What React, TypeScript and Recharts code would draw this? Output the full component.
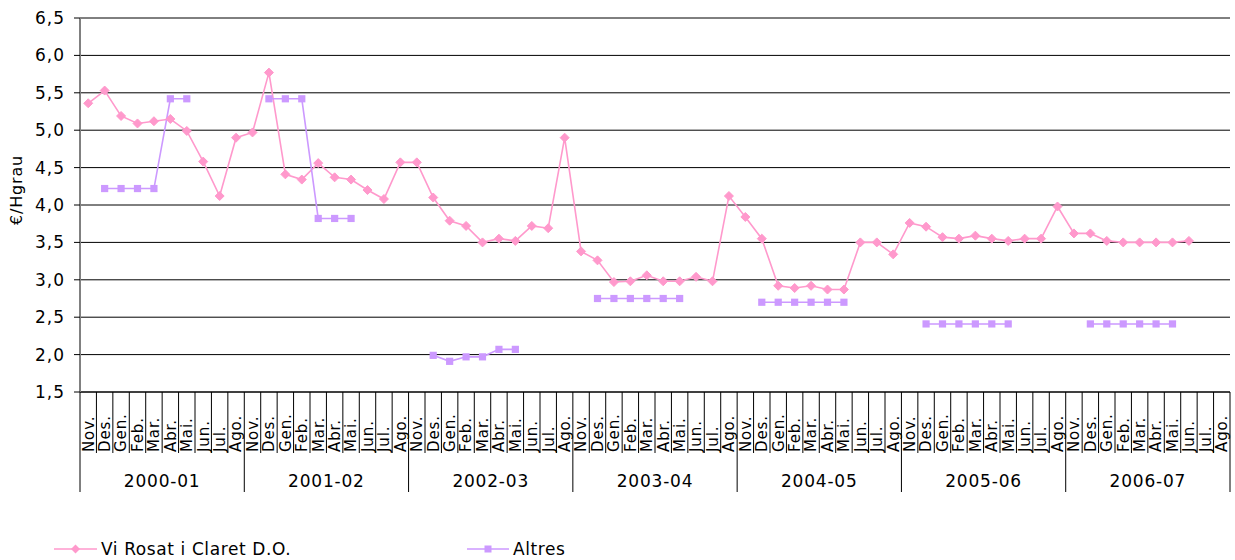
import React from "react";
import {
  LineChart,
  Line,
  XAxis,
  YAxis,
  CartesianGrid,
  Legend,
} from "recharts";

const months = ["Nov.", "Des.", "Gen.", "Feb.", "Mar.", "Abr.", "Mai.", "Jun.", "Jul.", "Ago."];
const seasons = ["2000-01", "2001-02", "2002-03", "2003-04", "2004-05", "2005-06", "2006-07"];

// €/hectolitre-degree, one value per month, Nov..Ago of each season
const rosatValues: (number | null)[] = [
  5.36, 5.53, 5.19, 5.09, 5.12, 5.15, 4.99, 4.58, 4.12, 4.9,
  4.97, 5.77, 4.41, 4.34, 4.56, 4.37, 4.34, 4.2, 4.08, 4.57,
  4.57, 4.1, 3.79, 3.72, 3.5, 3.55, 3.52, 3.72, 3.69, 4.9,
  3.38, 3.26, 2.97, 2.98, 3.06, 2.98, 2.98, 3.04, 2.98, 4.12,
  3.84, 3.55, 2.92, 2.89, 2.92, 2.87, 2.87, 3.5, 3.5, 3.34,
  3.76, 3.71, 3.57, 3.55, 3.59, 3.55, 3.52, 3.55, 3.55, 3.98,
  3.62, 3.62, 3.52, 3.5, 3.5, 3.5, 3.5, 3.52, null, null,
];

const altresValues: (number | null)[] = [
  null, 4.22, 4.22, 4.22, 4.22, 5.42, 5.42, null, null, null,
  null, 5.42, 5.42, 5.42, 3.82, 3.82, 3.82, null, null, null,
  null, 1.99, 1.91, 1.97, 1.97, 2.07, 2.07, null, null, null,
  null, 2.75, 2.75, 2.75, 2.75, 2.75, 2.75, null, null, null,
  null, 2.7, 2.7, 2.7, 2.7, 2.7, 2.7, null, null, null,
  null, 2.41, 2.41, 2.41, 2.41, 2.41, 2.41, null, null, null,
  null, 2.41, 2.41, 2.41, 2.41, 2.41, 2.41, null, null, null,
];

const yTicks = [1.5, 2, 2.5, 3, 3.5, 4, 4.5, 5, 5.5, 6, 6.5];

const PINK = "#ff99cc";
const PURPLE = "#cc99ff";
const FONT = "'DejaVu Sans', sans-serif";

const WIDTH = 1235;
const HEIGHT = 560;
const PLOT_LEFT = 80;
const PLOT_RIGHT = 1230;
const MARGIN = { top: 18, right: WIDTH - PLOT_RIGHT, left: 0, bottom: 58 };
const Y_AXIS_W = PLOT_LEFT - MARGIN.left;
const N = rosatValues.length;
const BAND = (PLOT_RIGHT - PLOT_LEFT) / N;

const data = rosatValues.map((v, i) => ({
  idx: i,
  rosat: v,
  altres: altresValues[i],
}));

const fmt = (v: number) => v.toFixed(1).replace(".", ",");

function MonthTick(props: any) {
  const { x, y, payload } = props;
  const idx = Number(payload.value);
  const left = x - BAND / 2;
  const seasonStart = idx % 10 === 0;
  const ly = y + 60;
  return (
    <g>
      <line x1={left} y1={y} x2={left} y2={y + (seasonStart ? 100 : 61)} stroke="#000" strokeWidth={1} />
      {idx === N - 1 && (
        <line x1={x + BAND / 2} y1={y} x2={x + BAND / 2} y2={y + 100} stroke="#000" strokeWidth={1} />
      )}
      <text
        x={x}
        y={ly}
        transform={`rotate(-90 ${x} ${ly})`}
        dy="0.36em"
        textAnchor="start"
        fontFamily={FONT}
        fontSize={15}
        letterSpacing={0.9}
        fill="#000"
      >
        {months[idx % 10]}
      </text>
      {seasonStart && (
        <text
          x={left + BAND * 5}
          y={y + 95}
          textAnchor="middle"
          fontFamily={FONT}
          fontSize={17}
          letterSpacing={0.8}
          fill="#000"
        >
          {seasons[Math.floor(idx / 10)]}
        </text>
      )}
    </g>
  );
}

function Diamond(props: any) {
  const { cx, cy, index, value } = props;
  if (value == null || cy == null) return <g key={`dm-${index}`} />;
  const r = 4.5;
  return (
    <polygon
      key={`dm-${index}`}
      points={`${cx},${cy - r} ${cx + r},${cy} ${cx},${cy + r} ${cx - r},${cy}`}
      fill={PINK}
      stroke={PINK}
    />
  );
}

function Square(props: any) {
  const { cx, cy, index, value } = props;
  if (value == null || cy == null) return <g key={`sq-${index}`} />;
  const s = 3.6;
  return <rect key={`sq-${index}`} x={cx - s} y={cy - s} width={s * 2} height={s * 2} fill={PURPLE} />;
}

function YTitle() {
  return (
    <text
      x={16}
      y={190}
      transform="rotate(-90 16 190)"
      textAnchor="middle"
      dominantBaseline="central"
      fontFamily={FONT}
      fontSize={16}
      letterSpacing={0.8}
      fill="#000"
    >
      €/Hgrau
    </text>
  );
}

function LegendBox() {
  return (
    <svg width={WIDTH} height={28}>
      <line x1={54} y1={15} x2={97} y2={15} stroke={PINK} strokeWidth={1.5} />
      <polygon points="75.5,10.5 80,15 75.5,19.5 71,15" fill={PINK} />
      <text x={101} y={21} fontFamily={FONT} fontSize={17} letterSpacing={0.6} fill="#000">
        Vi Rosat i Claret D.O.
      </text>
      <line x1={467} y1={15} x2={509} y2={15} stroke={PURPLE} strokeWidth={1.5} />
      <rect x={484.5} y={11.5} width={7} height={7} fill={PURPLE} />
      <text x={513} y={21} fontFamily={FONT} fontSize={17} letterSpacing={0.6} fill="#000">
        Altres
      </text>
    </svg>
  );
}

export default function App() {
  return (
    <div style={{ position: "absolute", left: 0, top: 0, width: WIDTH, height: HEIGHT, background: "#fff" }}>
      <LineChart width={WIDTH} height={HEIGHT} data={data} margin={MARGIN}>
        <CartesianGrid vertical={false} stroke="#000" strokeWidth={1} />
        <XAxis
          dataKey="idx"
          type="category"
          scale="band"
          interval={0}
          height={110}
          tickLine={false}
          tickSize={0}
          tickMargin={0}
          axisLine={{ stroke: "#000" }}
          tick={<MonthTick />}
        />
        <YAxis
          width={Y_AXIS_W}
          domain={[1.5, 6.5]}
          ticks={yTicks}
          interval={0}
          tickFormatter={fmt}
          tickSize={6}
          tickMargin={9}
          tickLine={{ stroke: "#000" }}
          axisLine={{ stroke: "#808080", strokeWidth: 2 }}
          tick={{ fontFamily: FONT, fontSize: 17, fill: "#000", letterSpacing: 1 }}
          label={<YTitle />}
        />
        <Legend
          layout="horizontal"
          align="center"
          verticalAlign="middle"
          wrapperStyle={{ top: 534, left: 0, width: WIDTH }}
          content={() => <LegendBox />}
        />
        <Line
          dataKey="rosat"
          name="Vi Rosat i Claret D.O."
          stroke={PINK}
          strokeWidth={1.6}
          dot={Diamond}
          activeDot={false}
          isAnimationActive={false}
        />
        <Line
          dataKey="altres"
          name="Altres"
          stroke={PURPLE}
          strokeWidth={1.6}
          dot={Square}
          activeDot={false}
          isAnimationActive={false}
        />
      </LineChart>
    </div>
  );
}
